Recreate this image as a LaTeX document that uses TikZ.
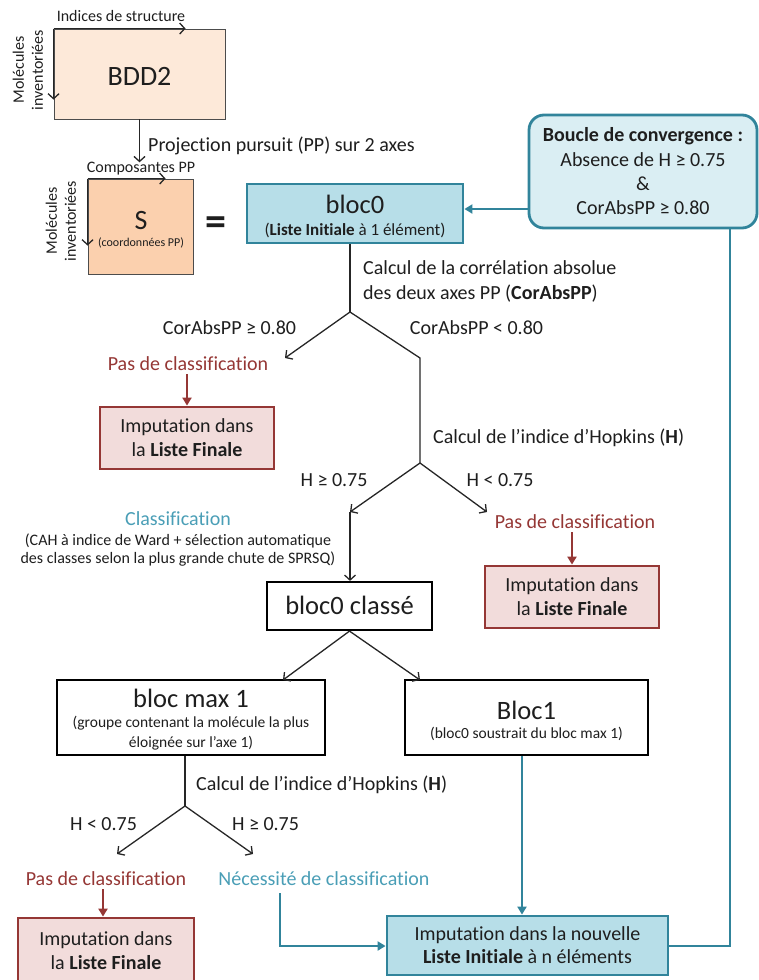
\documentclass[tikz,border=0pt]{standalone}
\usepackage{fontspec}
\setmainfont{Carlito}[Ligatures=NoCommon]
\usetikzlibrary{arrows.meta}
\definecolor{txt}{HTML}{1E1E1E}
\definecolor{redc}{HTML}{953735}
\definecolor{redfill}{HTML}{F2DCDB}
\definecolor{tealc}{HTML}{31849B}
\definecolor{tealfill}{HTML}{B7DEE8}
\definecolor{convfill}{HTML}{DAEEF3}
\definecolor{tealtxt}{HTML}{4A9EB6}
\definecolor{peach}{HTML}{FDE9D9}
\definecolor{peachS}{HTML}{FBD0AE}
\newcommand{\fsz}[2]{\fontsize{#1}{#2}\selectfont}
\begin{document}
\begin{tikzpicture}[x=1pt,y=-1pt,
  every node/.style={text=txt, inner sep=0pt},
  lbl/.style={font=\fsz{20}{25}},
  small/.style={font=\fsz{16}{19}},
  big/.style={font=\fsz{26.5}{30}},
  pbox/.style={draw=black!70, line width=0.9pt},
  bbox/.style={draw=black, line width=2.2pt, fill=white},
  redbox/.style={draw=redc, line width=2.8pt, fill=redfill, font=\fsz{20}{24}, align=center},
  tealbox/.style={draw=tealc, line width=2.8pt, fill=tealfill},
  conn/.style={draw=black!85, line width=1.3pt},
  thinarrow/.style={conn, -{Straight Barb[length=5pt,width=11pt,line width=1.3pt]}},
  redarrow/.style={draw=redc, line width=2.8pt, -{Triangle[length=8pt,width=9pt]}},
  tealarrow/.style={draw=tealc, line width=2.8pt, -{Triangle[length=8pt,width=9pt]}},
  tealline/.style={draw=tealc, line width=2.8pt},
  redtxt/.style={lbl, text=redc},
  tealt/.style={lbl, text=tealtxt}]
\useasboundingbox (0,0) rectangle (758,980);

% BDD2
\node[pbox, fill=peach, minimum width=171, minimum height=90] (bdd2) at (139.5,74) {};
\node[font=\fsz{28}{30}] (bddt) at (139.5,76) {BDD2};
\node[small] (ids) at (121,16) {Indices de structure};
\node[small, rotate=90, align=center] (mol1) at (28,70) {Molécules\\inventoriées};
\draw[thinarrow] (bdd2.north west) -- ++(132,0);
\draw[thinarrow] (bdd2.north west) -- ++(0,71);

% S
\node[pbox, fill=peachS, minimum width=105, minimum height=95] (S) at (140.5,226.5) {};
\node[font=\fsz{28}{30}] (St) at (141,221) {S};
\node[font=\fsz{12}{14}] (Ssub) at (141,243) {(coordonnées PP)};
\node[small] (comp) at (141,169) {Composantes PP};
\node[small, rotate=90, align=center] (mol2) at (61,221) {Molécules\\inventoriées};
\draw[thinarrow] (S.north west) -- ++(78,0);
\draw[thinarrow] (S.north west) -- ++(0,67);
\draw[thinarrow] (bdd2.south) -- (bdd2.south |- comp.north);
\node[lbl, anchor=west] (proj) at (148,146) {Projection pursuit (PP) sur 2 axes};
\node[font=\fsz{42}{42}\bfseries] (eq) at (216,226) {=};

% bloc0
\node[tealbox, minimum width=216, minimum height=59] (bloc0) at (355,213.5) {};
\node[big] (b0t) at (355,204) {bloc0};
\node[font=\fsz{17}{20}] (b0s) at (355,230) {(\textbf{Liste Initiale} à 1 élément)};

% convergence
\node[draw=tealc, line width=2.8pt, fill=convfill, rounded corners=15pt,
  minimum width=228, minimum height=113, align=center, font=\fsz{20}{24.3}] (conv) at (643,171.5)
  {\textbf{Boucle de convergence :}\\Absence de H ≥ 0.75\\\&\\CorAbsPP ≥ 0.80};
\coordinate (y209) at (0,209);
\draw[tealarrow] (conv.west |- y209) -- (bloc0.east |- y209);

% first split
\coordinate (s1) at (350,312);
\coordinate (a1) at (285,358);
\coordinate (k1) at (420,358);
\coordinate (s2) at (420,463);
\draw[conn] (bloc0.south -| s1) -- (s1);
\draw[thinarrow] (s1) -- (a1);
\draw[conn] (s1) -- (k1) -- (s2);
\node[lbl, anchor=west, align=left] (calc1) at (363,281.5) {Calcul de la corrélation absolue\\des deux axes PP (\textbf{CorAbsPP})};
\node[lbl] (c80a) at (229.5,328) {CorAbsPP ≥ 0.80};
\node[lbl] (c80b) at (476.5,328) {CorAbsPP < 0.80};

\node[redtxt] (pas1) at (188,364) {Pas de classification};
\node[redbox, minimum width=174, minimum height=62] (rb1) at (187,438) {Imputation dans\\la \textbf{Liste Finale}};
\draw[redarrow] (pas1.south -| rb1.north) ++(0,3) -- (rb1.north);

% second split
\node[lbl, anchor=west] (hop1) at (433,438) {Calcul de l’indice d’Hopkins (\textbf{H})};
\node[lbl] (h1a) at (334,480) {H ≥ 0.75};
\node[lbl] (h1b) at (500,480) {H < 0.75};
\coordinate (c1) at (350,512);
\coordinate (c2) at (487,512);
\draw[thinarrow] (s2) -- (c1);
\draw[thinarrow] (s2) -- (c2);
\node[redtxt] (pas2) at (575,522) {Pas de classification};
\node[redbox, minimum width=174, minimum height=62] (rb2) at (572,597) {Imputation dans\\la \textbf{Liste Finale}};
\draw[redarrow] (pas2.south -| rb2.north) ++(0,3) -- (rb2.north);

\node[tealt] (clas) at (178,519) {Classification};
\node[font=\fsz{16}{18.5}, align=center] (clsub) at (178,550) {(CAH à indice de Ward + sélection automatique\\des classes selon la plus grande chute de SPRSQ)};

\node[bbox, minimum width=165, minimum height=48] (bc) at (349.5,606) {};
\node[big] (bct) at (349.5,605) {bloc0 classé};
\draw[thinarrow] (c1) -- (c1 |- bc.north);

% bloc max 1 and Bloc1
\node[bbox, minimum width=268, minimum height=75] (bm1) at (191,717.5) {};
\node[big] (bm1t) at (191,698) {bloc max 1};
\node[font=\fsz{15.5}{20}, align=center] (bm1s) at (191,733) {(groupe contenant la molécule la plus\\éloignée sur l’axe 1)};
\node[bbox, minimum width=243, minimum height=75] (bl1) at (526.5,717.5) {};
\node[big] (bl1t) at (526.5,710) {Bloc1};
\node[font=\fsz{15.5}{18}] (bl1s) at (526.5,734) {(bloc0 soustrait du bloc max 1)};
\coordinate (t1) at (283,680);
\coordinate (t2) at (420,680);
\draw[thinarrow] (bc.south) -- (t1);
\draw[thinarrow] (bc.south) -- (t2);

% third split
\coordinate (s3) at (185,806);
\coordinate (d1) at (117,854);
\coordinate (d2) at (253,854);
\draw[conn] (s3 |- bm1.south) -- (s3);
\draw[thinarrow] (s3) -- (d1);
\draw[thinarrow] (s3) -- (d2);
\node[lbl, anchor=west] (hop2) at (196,785) {Calcul de l’indice d’Hopkins (\textbf{H})};
\node[lbl] (h2a) at (103.5,824) {H < 0.75};
\node[lbl] (h2b) at (265.5,824) {H ≥ 0.75};

\node[redtxt] (pas3) at (106,879) {Pas de classification};
\node[redbox, minimum width=176, minimum height=66] (rb3) at (106,951) {Imputation dans\\la \textbf{Liste Finale}};
\draw[redarrow] (pas3.south -| 103,0) ++(0,3) -- (rb3.north -| 103,0);

\node[tealt] (nec) at (324,879) {Nécessité de classification};
\node[tealbox, minimum width=281, minimum height=59, align=center, font=\fsz{20}{23}] (nouv) at (527.5,945.5)
  {Imputation dans la nouvelle\\\textbf{Liste Initiale} à n éléments};
\coordinate (n1) at (280,893);
\coordinate (n2) at (280,946);
\draw[tealarrow] (n1) -- (n2) -- (nouv.west |- n2);
\coordinate (x522) at (522,0);
\draw[tealarrow] (bl1.south -| x522) -- (nouv.north -| x522);
\coordinate (x730) at (730,0);
\draw[tealline] (nouv.east |- n2) -- (x730 |- n2) -- (conv.south -| x730);
\end{tikzpicture}
\end{document}
